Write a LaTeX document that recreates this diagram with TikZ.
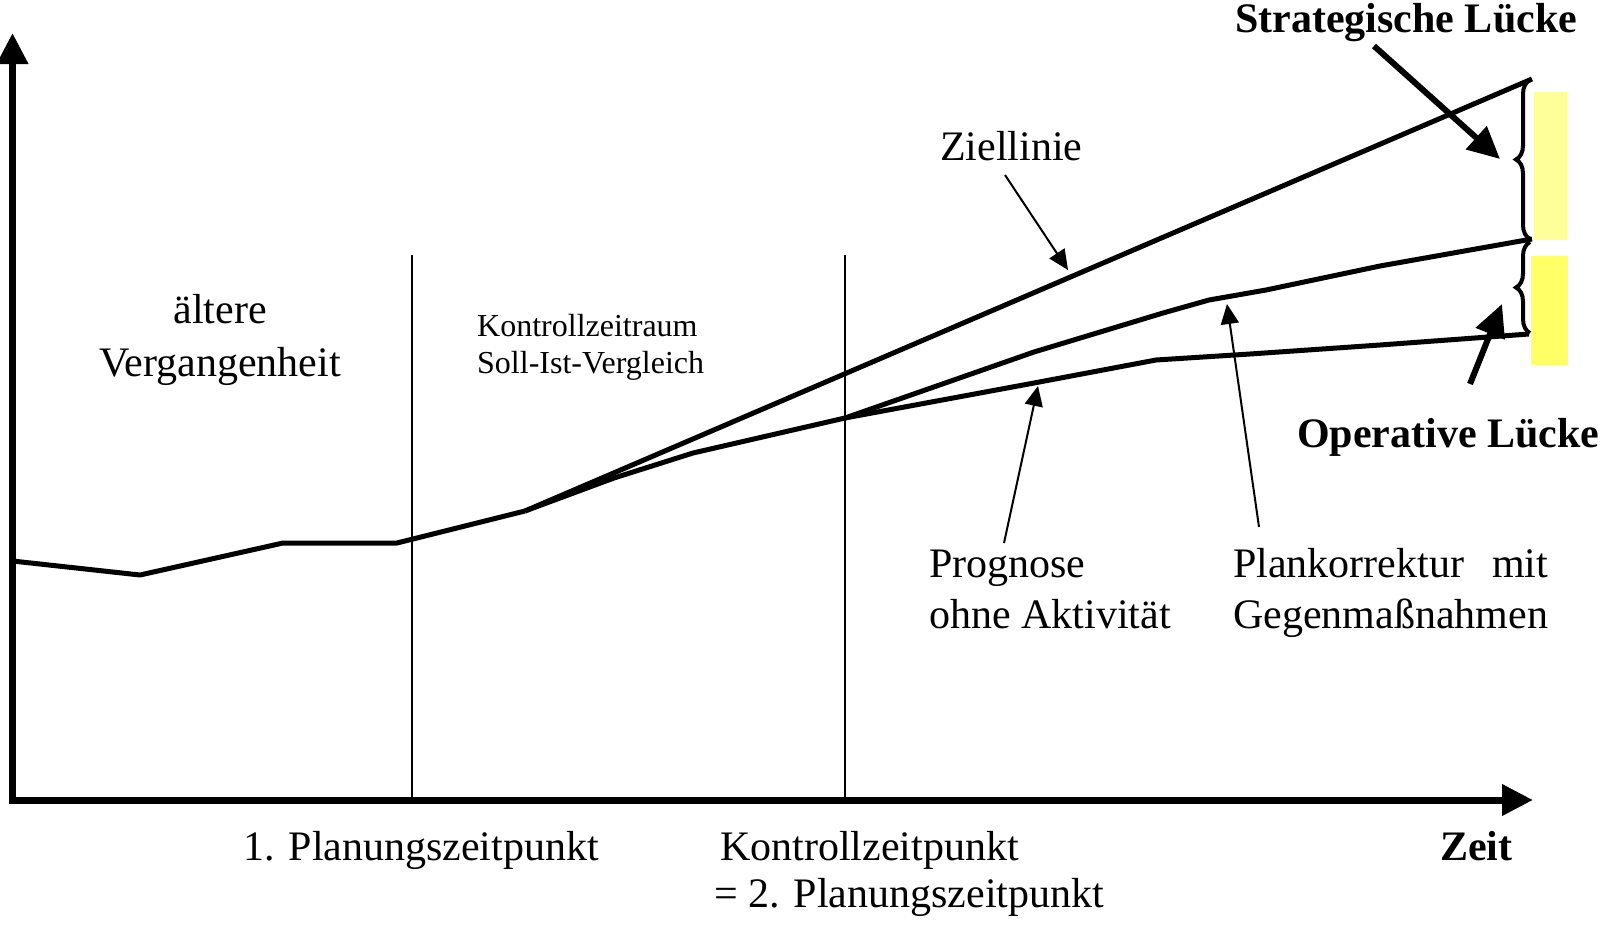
\documentclass[tikz,border=0pt]{standalone}
\usepackage{fontspec}
\setmainfont{Liberation Serif}
\usetikzlibrary{arrows.meta,decorations.pathreplacing}

\definecolor{gappale}{RGB}{255,255,153}
\definecolor{gapbright}{RGB}{255,255,102}

\begin{document}
\begin{tikzpicture}[x=1pt,y=-1pt,
  axis/.style={line width=7pt,-{Triangle[length=31pt,width=30pt]}},
  curve/.style={line width=5pt,line join=round},
  divider/.style={line width=1.5pt},
  pointer/.style={line width=2pt,-{Triangle[length=20pt,width=18pt]}},
  gaparrow/.style={line width=6pt,-{Triangle[length=32pt,width=30pt]}},
  gapbrace/.style={line width=4pt,decorate,decoration={brace,amplitude=14pt}},
  lbl/.style={font=\fontsize{42}{52}\selectfont,inner sep=0pt,anchor=base west},
  lblc/.style={lbl,anchor=base},
  lblb/.style={lbl,font=\fontsize{42}{52}\selectfont\bfseries},
  lbls/.style={lbl,font=\fontsize{32}{38}\selectfont},
]
\useasboundingbox (0,0) rectangle (1604,924);

% gap markers
\fill[gappale]   (1534,92)  rectangle (1567,240);
\fill[gapbright] (1531,256) rectangle (1568,365);

% axes
\coordinate (origin) at (12.5,800);
\coordinate (ytip) at (12.5,33);
\coordinate (xtip) at (1533,800);
\draw[axis] ([yshift=3.5pt]origin) -- (ytip);
\draw[axis] ([xshift=-3.5pt]origin) -- (xtip);

% time dividers
\coordinate (plan1top) at (412,255);
\coordinate (plan1bot) at (412,800);
\coordinate (plan2top) at (845,255);
\coordinate (plan2bot) at (845,800);
\draw[divider] (plan1top) -- (plan1bot);
\draw[divider] (plan2top) -- (plan2bot);

% history up to the fork
\coordinate (fork) at (525,511);
\coordinate (fork2) at (845,418);
\draw[curve] (12.5,561) -- (140,575) -- (283,543) -- (397,543) -- (fork);

% target line
\coordinate (zielend) at (1532,79);
\draw[curve] (fork) -- (zielend);

% forecast without activity
\coordinate (progend) at (1529,334);
\draw[curve] (fork) -- (614,478) -- (693,453) -- (fork2) -- (1034,383)
  -- (1156,360) -- (1250,354) -- (1380,345) -- (progend);

% corrected plan
\coordinate (planend) at (1532,239);
\draw[curve] (fork2) -- (1034,352) -- (1163,313) -- (1209,300) -- (1266,290)
  -- (1380,266) -- (planend);

% braces for the gaps
\draw[gapbrace] (1530,239) -- (1530,80);
\draw[gapbrace] (1530,333) -- (1530,242);

% labels
\node[lblb] (strat) at (1235,32) {Strategische Lücke};
\node[lblb] (oper) at (1297,447) {Operative Lücke};
\node[lbl] (ziel) at (940,160) {Ziellinie};
\node[lblc] (alt1) at (220,323) {ältere};
\node[lblc] (alt2) at (220,376) {Vergangenheit};
\node[lbls] (kz1) at (477,336) {Kontrollzeitraum};
\node[lbls] (kz2) at (477,373) {Soll-Ist-Vergleich};
\node[lbl] (prog1) at (929,577) {Prognose};
\node[lbl] (prog2) at (929,628) {ohne Aktivität};
\node[lbl] (plan1) at (1233,577) {Plankorrektur\hspace{0.67em}mit};
\node[lbl] (plan2) at (1233,628) {Gegenmaßnahmen};
\node[lbl] (pz1) at (243,860) {1. Planungszeitpunkt};
\node[lbl] (kzp1) at (720,860) {Kontrollzeitpunkt};
\node[lbl] (kzp2) at (714,907) {= 2. Planungszeitpunkt};
\node[lblb] (zeit) at (1440,860) {Zeit};

% pointers from labels to curves
\coordinate (zieltail) at (1005,175);
\coordinate (zielhit) at (1068,270);
\coordinate (progtail) at (1004,543);
\coordinate (proghit) at (1038,386);
\coordinate (plantail) at (1259,527);
\coordinate (planhit) at (1227,304);
\draw[pointer] (zieltail) -- (zielhit);
\draw[pointer] (progtail) -- (proghit);
\draw[pointer] (plantail) -- (planhit);

% gap arrows
\coordinate (strattail) at (1374,46);
\coordinate (strathit) at (1500,159);
\coordinate (opertail) at (1470,384);
\coordinate (operhit) at (1502,304);
\draw[gaparrow] (strattail) -- (strathit);
\draw[gaparrow] (opertail) -- (operhit);
\end{tikzpicture}
\end{document}
